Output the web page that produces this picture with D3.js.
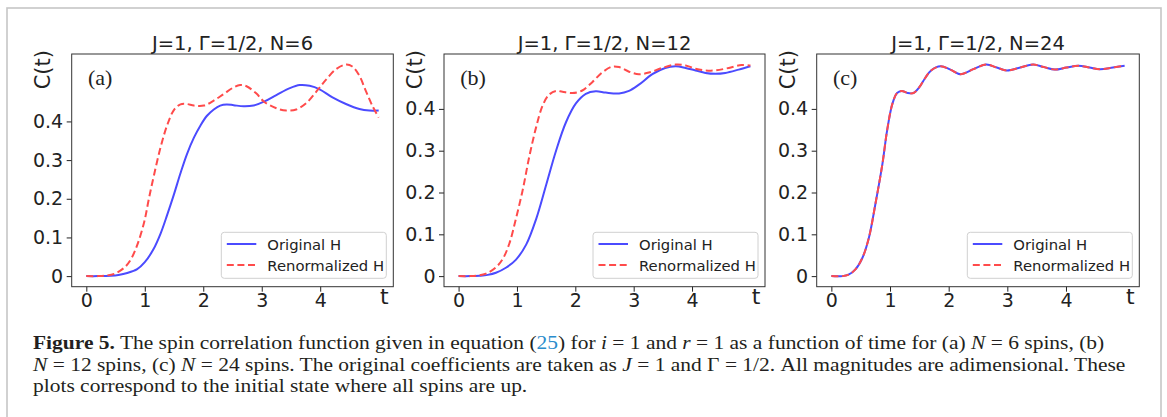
<!DOCTYPE html>
<html><head><meta charset="utf-8">
<script src="https://cdn.jsdelivr.net/npm/d3@7"></script>
<style>body{margin:0;background:#fff}svg{display:block}</style>
</head><body>
<svg id="chart" width="1167" height="417"></svg>
<script>
// ---------- data ----------
const panelTitles = ["J=1, Γ=1/2, N=6", "J=1, Γ=1/2, N=12", "J=1, Γ=1/2, N=24"];
const panelTags = ["(a)", "(b)", "(c)"];
const seriesNames = ["Original H", "Renormalized H"];
const xTicks = [0, 1, 2, 3, 4];
const yTicks = [0, 0.1, 0.2, 0.3, 0.4];
const xLabel = "t";
const yLabel = "C(t)";

// panel (a) N=6
const tA_orig = [0,0.2,0.42,0.55,0.70,0.87,1.0,1.15,1.27,1.38,1.5,1.61,1.72,1.84,1.95,2.06,2.18,2.29,2.40,2.52,2.69,2.86,3.04,3.25,3.48,3.65,3.82,3.99,4.21,4.44,4.67,4.84,5.0];
const cA_orig = [0,0,0.001,0.003,0.008,0.018,0.036,0.07,0.11,0.157,0.212,0.266,0.315,0.358,0.389,0.414,0.431,0.441,0.444,0.442,0.439,0.441,0.451,0.468,0.486,0.494,0.492,0.483,0.462,0.445,0.432,0.428,0.428];
const tA_ren = [0,0.2,0.31,0.48,0.65,0.76,0.87,0.99,1.07,1.16,1.27,1.38,1.5,1.61,1.72,1.84,2.01,2.18,2.35,2.52,2.63,2.74,2.91,3.04,3.25,3.42,3.59,3.76,3.97,4.10,4.27,4.44,4.55,4.67,4.78,4.89,5.0];
const cA_ren = [0,0,0.001,0.006,0.022,0.043,0.08,0.14,0.2,0.263,0.333,0.389,0.43,0.444,0.445,0.441,0.441,0.454,0.471,0.488,0.494,0.491,0.472,0.451,0.434,0.428,0.431,0.447,0.484,0.508,0.535,0.547,0.542,0.518,0.479,0.441,0.41];

// panel (b) N=12
const tB_orig = [0,0.2,0.36,0.5,0.64,0.81,0.98,1.16,1.33,1.5,1.67,1.84,2.01,2.18,2.35,2.52,2.75,2.92,3.09,3.32,3.54,3.72,3.89,4.06,4.23,4.40,4.57,4.80,5.0];
const cB_orig = [0,0,0.001,0.003,0.008,0.02,0.039,0.076,0.137,0.218,0.3,0.368,0.413,0.436,0.442,0.439,0.437,0.443,0.458,0.483,0.498,0.502,0.498,0.492,0.486,0.484,0.486,0.494,0.502];
const tB_ren = [0,0.2,0.30,0.47,0.64,0.76,0.87,0.98,1.10,1.21,1.33,1.44,1.55,1.67,1.78,1.95,2.12,2.29,2.46,2.63,2.75,2.92,3.09,3.26,3.49,3.72,3.89,4.06,4.23,4.40,4.63,4.85,5.0];
const cB_ren = [0,0,0.001,0.006,0.021,0.042,0.078,0.136,0.207,0.285,0.357,0.408,0.434,0.443,0.441,0.438,0.444,0.464,0.487,0.501,0.5,0.489,0.483,0.487,0.498,0.506,0.504,0.496,0.492,0.492,0.498,0.505,0.504];

// panel (c) N=24
const tC_orig = [0,0.19,0.30,0.41,0.53,0.64,0.75,0.87,0.95,1.04,1.12,1.2,1.3,1.4,1.5,1.6,1.7,1.86,2.03,2.2,2.42,2.64,2.82,2.99,3.22,3.44,3.62,3.81,4.01,4.21,4.4,4.58,4.8,5.0];
const cC_orig = [0,0,0.004,0.016,0.044,0.092,0.172,0.268,0.348,0.412,0.438,0.443,0.438,0.438,0.452,0.474,0.492,0.502,0.494,0.483,0.495,0.506,0.499,0.492,0.499,0.506,0.5,0.494,0.499,0.503,0.499,0.495,0.499,0.503];
const tC_ren = [0,0.19,0.30,0.41,0.53,0.64,0.75,0.87,0.95,1.04,1.12,1.2,1.3,1.4,1.5,1.6,1.7,1.86,2.03,2.2,2.42,2.64,2.82,2.99,3.22,3.44,3.62,3.81,4.01,4.21,4.4,4.58,4.8,5.0];
const cC_ren = [0,0,0.004,0.016,0.044,0.092,0.172,0.268,0.348,0.412,0.438,0.443,0.438,0.438,0.452,0.474,0.492,0.502,0.494,0.483,0.495,0.506,0.499,0.492,0.499,0.506,0.5,0.494,0.499,0.503,0.499,0.495,0.499,0.503];

// ---------- layout ----------
const svg = d3.select("#chart");
const W = 1167, H = 417;
svg.append("rect").attr("width", W).attr("height", H).attr("fill", "#fff");
svg.append("rect").attr("x", 7).attr("y", 8).attr("width", 1154).attr("height", 430)
  .attr("fill", "none").attr("stroke", "#c6c6c6").attr("stroke-width", 1.6);

const frames = [{x0: 71.7, x1: 393.3}, {x0: 444, x1: 765}, {x0: 816.7, x1: 1139.3}];
const plotTop = 54, plotBottom = 286.7;
const colors = ["#4b4bff", "#ff4b4b"];
const dash = "7,3.6";
const sans = "DejaVu Sans";

const panels = [
  {t1: tA_orig, c1: cA_orig, t2: tA_ren, c2: cA_ren},
  {t1: tB_orig, c1: cB_orig, t2: tB_ren, c2: cB_ren},
  {t1: tC_orig, c1: cC_orig, t2: tC_ren, c2: cC_ren}
];

function padded(vals) {
  const [a, b] = d3.extent(vals);
  const m = (b - a) * 0.05;
  return [a - m, b + m];
}

panels.forEach((p, i) => {
  const f = frames[i];
  const g = svg.append("g");
  const x = d3.scaleLinear().domain(padded(p.t1.concat(p.t2))).range([f.x0, f.x1]);
  const y = d3.scaleLinear().domain(padded(p.c1.concat(p.c2))).range([plotBottom, plotTop]);

  const clipId = "clip" + i;
  g.append("clipPath").attr("id", clipId).append("rect")
    .attr("x", f.x0).attr("y", plotTop).attr("width", f.x1 - f.x0).attr("height", plotBottom - plotTop);

  const line = d3.line().x(d => x(d[0])).y(d => y(d[1])).curve(d3.curveCatmullRom.alpha(0.5));
  const s1 = p.t1.map((t, k) => [t, p.c1[k]]);
  const s2 = p.t2.map((t, k) => [t, p.c2[k]]);
  const lg = g.append("g").attr("clip-path", `url(#${clipId})`);
  lg.append("path").attr("d", line(s1)).attr("fill", "none")
    .attr("stroke", colors[0]).attr("stroke-width", 2);
  lg.append("path").attr("d", line(s2)).attr("fill", "none")
    .attr("stroke", colors[1]).attr("stroke-width", 2).attr("stroke-dasharray", dash);

  // axes
  const xa = g.append("g").attr("transform", `translate(0,${plotBottom})`)
    .call(d3.axisBottom(x).tickValues(xTicks).tickSize(5).tickPadding(1.5).tickFormat(d3.format("d")));
  const ya = g.append("g").attr("transform", `translate(${f.x0},0)`)
    .call(d3.axisLeft(y).tickValues(yTicks).tickSize(5).tickPadding(3.5)
      .tickFormat(d => d === 0 ? "0" : d3.format(".1f")(d)));
  [xa, ya].forEach(a => {
    a.select(".domain").remove();
    a.selectAll(".tick line").attr("stroke", "#222").attr("stroke-width", 1);
    a.selectAll(".tick text").attr("font-family", sans).attr("font-size", 19).attr("fill", "#222");
  });

  // frame
  g.append("rect").attr("x", f.x0).attr("y", plotTop).attr("width", f.x1 - f.x0).attr("height", plotBottom - plotTop)
    .attr("fill", "none").attr("stroke", "#333").attr("stroke-width", 1);

  // title
  g.append("text").attr("x", (f.x0 + f.x1) / 2).attr("y", 49.5).attr("text-anchor", "middle")
    .attr("font-family", sans).attr("font-size", 19.5).attr("fill", "#222").text(panelTitles[i]);
  // tag
  g.append("text").attr("x", f.x0 + 16.3).attr("y", 85).attr("font-family", "Liberation Serif")
    .attr("font-size", 22).attr("fill", "#222").text(panelTags[i]);
  // y label
  g.append("text").attr("transform", `translate(${f.x0 - 22},50) rotate(-90)`).attr("text-anchor", "end")
    .attr("font-family", sans).attr("font-size", 21).attr("fill", "#222").text(yLabel);
  // x label
  g.append("text").attr("x", f.x1 - 9).attr("y", 303.5).attr("text-anchor", "middle")
    .attr("font-family", sans).attr("font-size", 22).attr("fill", "#222").text(xLabel);

  // legend
  const bx1 = f.x1 - 7, bx0 = bx1 - 165, by1 = plotBottom - 8.4, by0 = by1 - 46;
  const leg = g.append("g");
  leg.append("rect").attr("x", bx0).attr("y", by0).attr("width", bx1 - bx0).attr("height", by1 - by0)
    .attr("rx", 3).attr("fill", "#fff").attr("fill-opacity", 0.85).attr("stroke", "#d0d0d0").attr("stroke-width", 1);
  seriesNames.forEach((name, k) => {
    const ly = by0 + 11.7 + k * 21;
    leg.append("line").attr("x1", bx0 + 5.5).attr("x2", bx0 + 35).attr("y1", ly).attr("y2", ly)
      .attr("stroke", colors[k]).attr("stroke-width", 2).attr("stroke-dasharray", k === 1 ? dash : null);
    leg.append("text").attr("x", bx0 + 46).attr("y", ly + 5.5).attr("font-family", sans)
      .attr("font-size", 14.8).attr("fill", "#222").text(name);
  });
});

// ---------- caption ----------
const captionLines = [
  [["Figure 5.", "b"], [" The spin correlation function given in equation (", ""], ["25", "link"], [") for ", ""], ["i", "i"], [" = 1 and ", ""], ["r", "i"], [" = 1 as a function of time for (a) ", ""], ["N", "i"], [" = 6 spins, (b)", ""]],
  [["N", "i"], [" = 12 spins, (c) ", ""], ["N", "i"], [" = 24 spins. The original coefficients are taken as ", ""], ["J", "i"], [" = 1 and Γ = 1/2. All magnitudes are adimensional. These", ""]],
  [["plots correspond to the initial state where all spins are up.", ""]]
];
const capBase = [349.5, 371, 392.3];
const capTargets = [1074, 1091];
const capNodes = captionLines.map((parts, li) => {
  const t = svg.append("text").attr("x", 33).attr("y", capBase[li])
    .attr("font-family", "Liberation Serif").attr("font-size", 19).attr("fill", "#231f20")
    .style("white-space", "pre");
  parts.forEach(([s, st]) => {
    const ts = t.append("tspan").text(s);
    if (st === "b") ts.attr("font-weight", "bold");
    if (st === "i") ts.attr("font-style", "italic");
    if (st === "link") ts.attr("fill", "#2a8ccc");
  });
  return t;
});
const sc = (capTargets[0] / capNodes[0].node().getComputedTextLength() +
            capTargets[1] / capNodes[1].node().getComputedTextLength()) / 2;
capNodes.forEach(t => t.attr("transform", `translate(33,0) scale(${sc},1) translate(-33,0)`));
</script>
</body></html>
